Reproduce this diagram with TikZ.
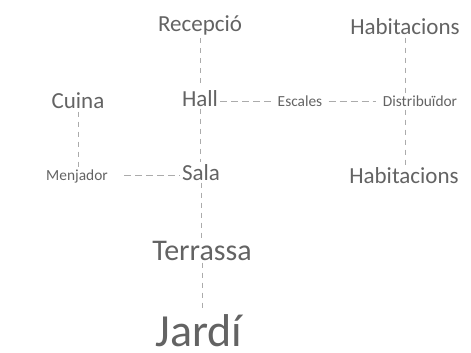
\documentclass[tikz,border=0pt]{standalone}
\usepackage{fontspec}
\setmainfont{Carlito}
\usetikzlibrary{positioning}
\definecolor{Ink}{HTML}{636363}
\definecolor{Rule}{HTML}{ABABAB}

\begin{document}
\begin{tikzpicture}[x=.5pt,y=-.5pt,
    room/.style={Ink,anchor=base,inner sep=1pt,font=\fontsize{11.5}{13}\selectfont},
    pass/.style={Ink,anchor=base,inner sep=1pt,font=\fontsize{7.7}{9}\selectfont},
    link/.style={Rule,line width=.5pt,dash pattern=on 3.5pt off 2pt},
    rise/.style={link,dash pattern=on 2.5pt off 2.5pt}]
        \useasboundingbox(0,0)rectangle(471,353);
        \node[room](recepcio)at(200,32){Recepció};
        \node[room](hall)at(200,106){Hall};
        \node[room](sala)at(201,180){Sala};
        \node[room,font=\fontsize{15}{17}\selectfont](terrassa)at(202,260){Terrassa};
        \node[room,font=\fontsize{23}{26}\selectfont](jardi)at(199,346){Jardí};
        \node[room](cuina)at(78,109){Cuina};
        \node[pass](menjador)at(77,180){Menjador};
        \node[pass](escales)at(300,107){Escales};
        \node[pass](distribuidor)at(420,107){Distribuïdor};
        \node[room](habA)at(405,35){Habitacions};
        \node[room](habB)at(404,184){Habitacions};
        % eix central
        \draw[rise](recepcio.south)--(hall.north);
        \draw[rise](hall.south)--(hall.south|-sala.north);
        \draw[rise](sala.south)--(sala.south|-terrassa.north);
        \draw[rise](terrassa.south)--(terrassa.south|-jardi.north);
        % banda esquerra
        \draw[rise](cuina.south)--(cuina.south|-menjador.north);
        \draw[link]([xshift=7pt]menjador.east)--(sala.west|-menjador.east);
        % banda dreta
        \draw[link](hall.east|-escales.west)--([xshift=-2pt]escales.west);
        \draw[link]([xshift=2pt]escales.east)--([xshift=-2pt]distribuidor.west);
        \draw[rise](habA.south)--(habA.south|-distribuidor.north);
        \draw[rise](habA.south|-distribuidor.south)--(habA.south|-habB.north);
      \end{tikzpicture}
\end{document}
